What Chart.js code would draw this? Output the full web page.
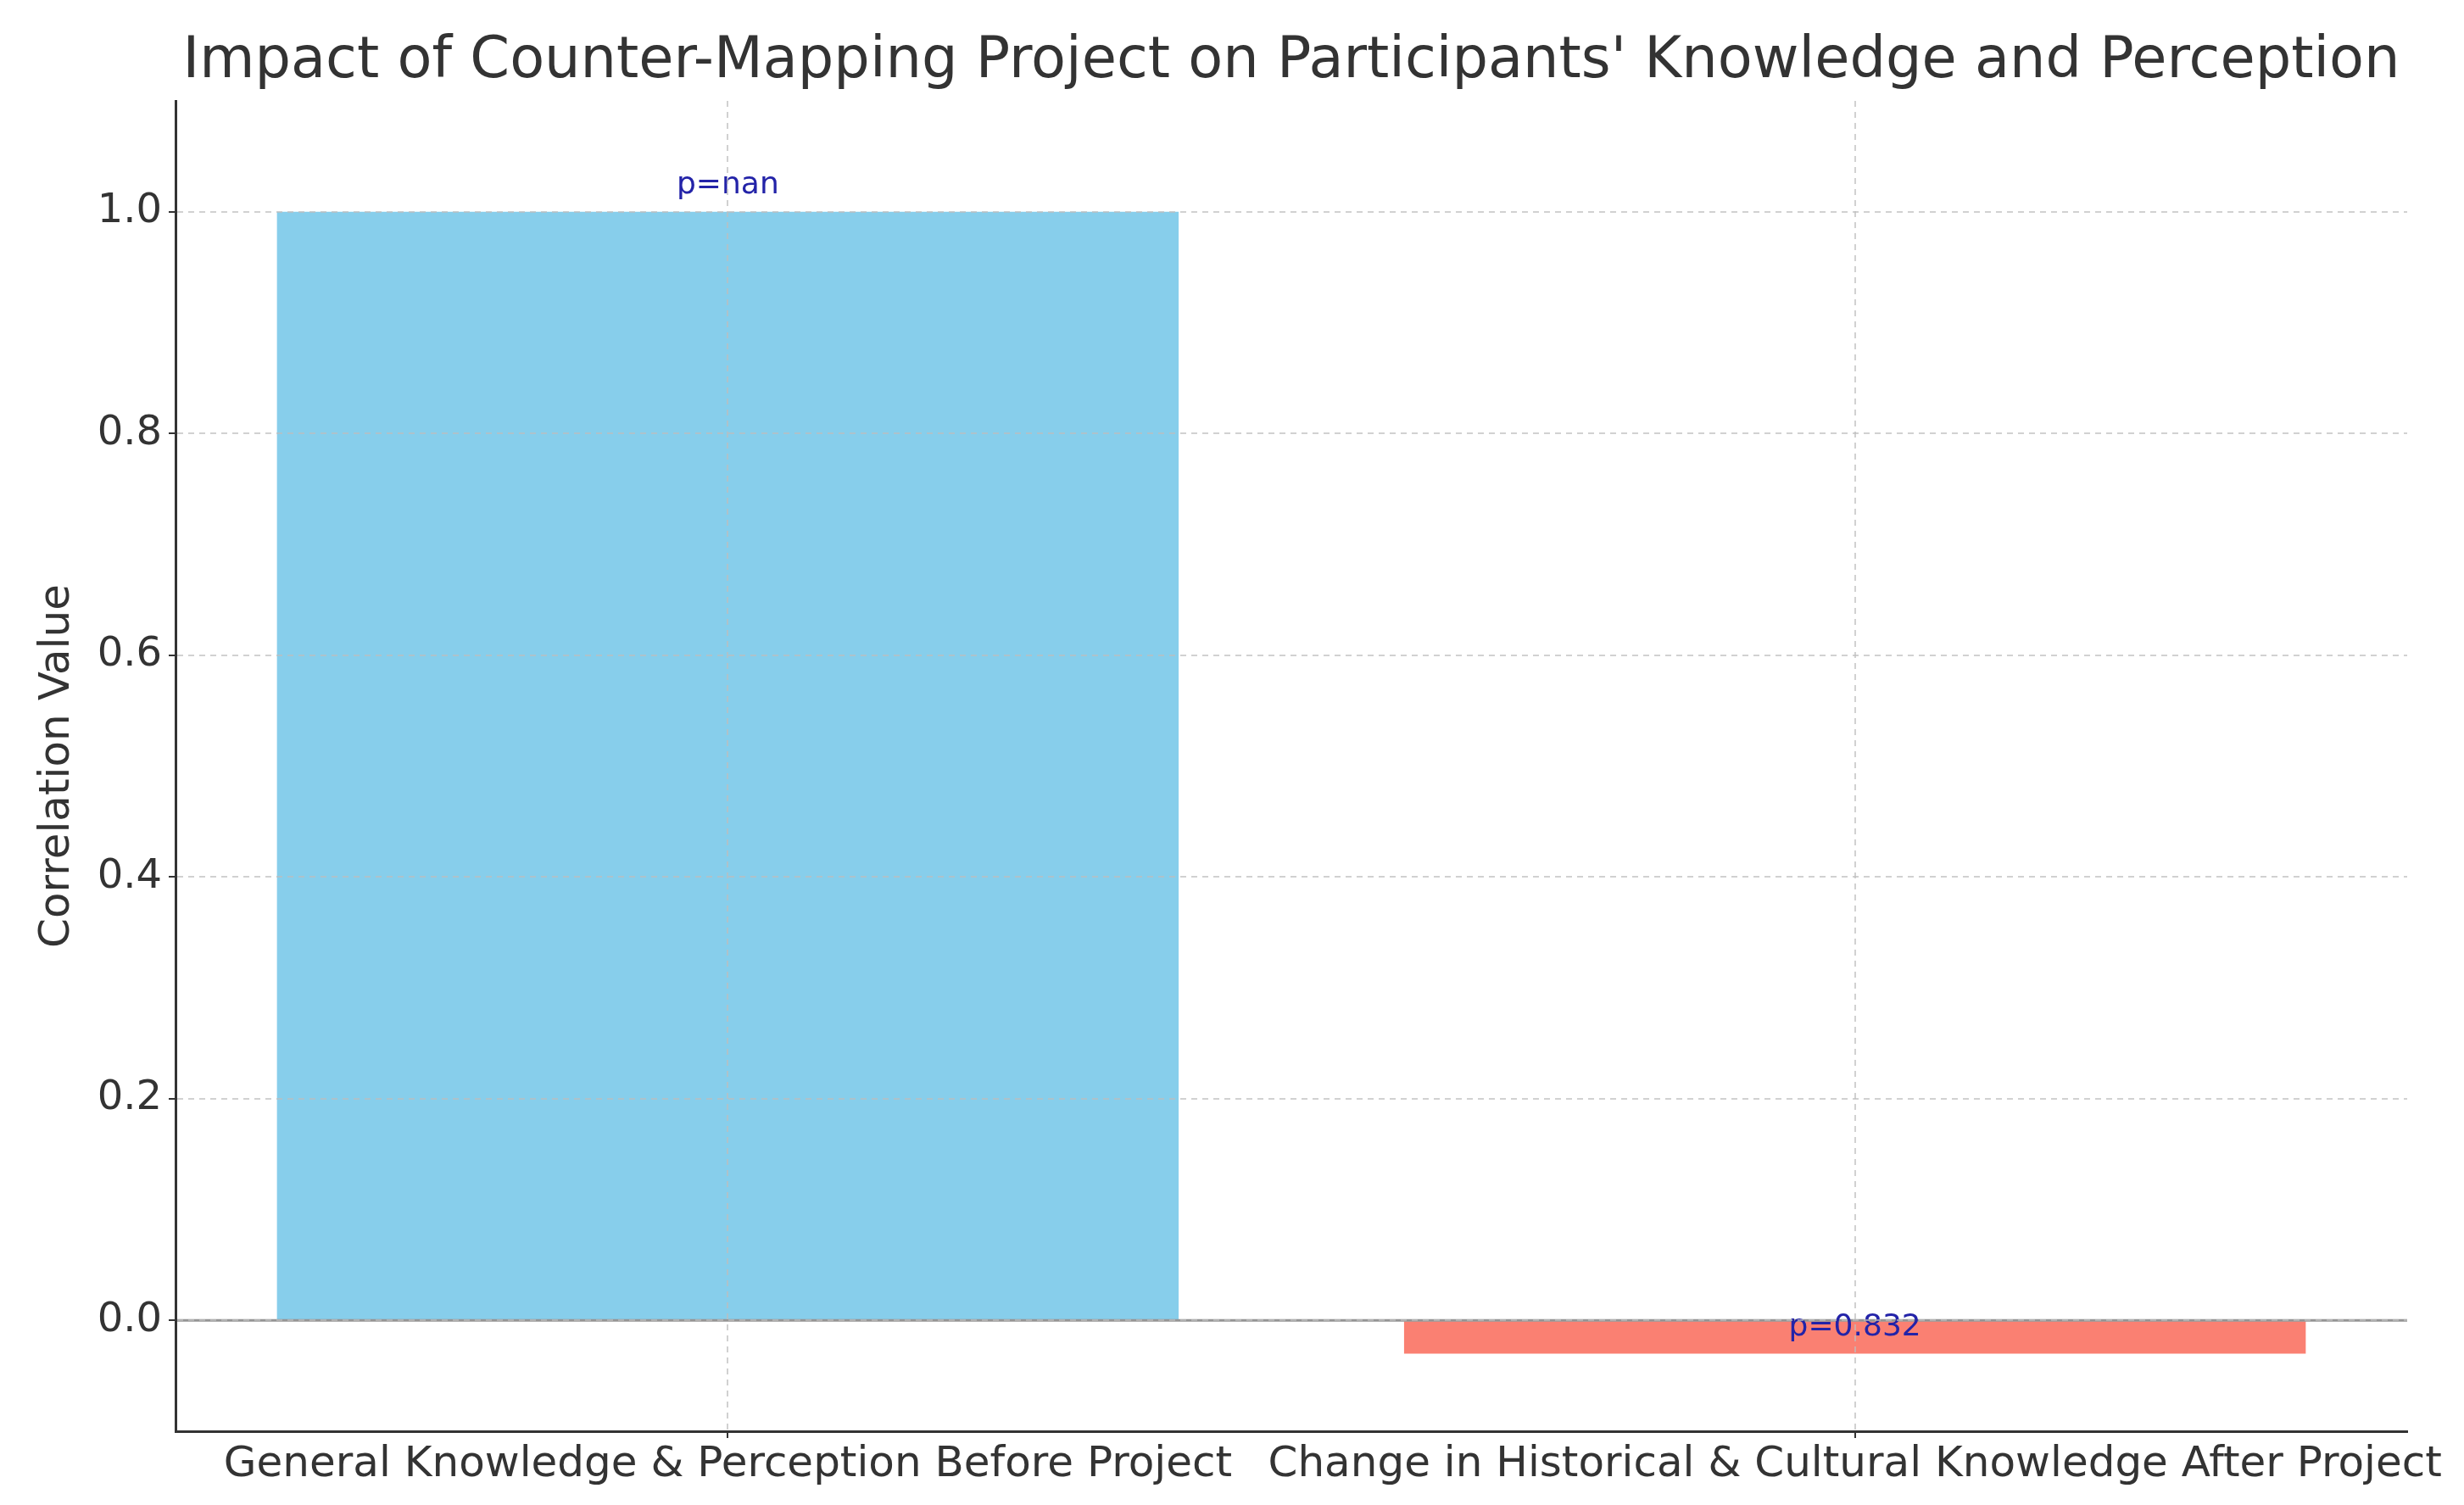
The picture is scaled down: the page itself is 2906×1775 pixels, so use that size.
<!DOCTYPE html>
<html>
<head>
<meta charset="utf-8">
<script src="https://cdn.jsdelivr.net/npm/chart.js@4.4.1/dist/chart.umd.min.js"></script>
<style>
    html, body { margin: 0; padding: 0; background: #fff; }
    #wrap { width: 2906px; height: 1775px; }
</style>
</head>
<body>
<div id="wrap"><canvas id="corrChart" width="2906" height="1775"></canvas></div>
<script>
const categories = ['General Knowledge & Perception Before Project', 'Change in Historical & Cultural Knowledge After Project'];
const correlations = [1.0, -0.03];
const pValueLabels = ['p=nan', 'p=0.832'];
const barColors = ['#87CEEB', '#FA8072'];
const yTicks = [0.0, 0.2, 0.4, 0.6, 0.8, 1.0];
const chartTitle = "Impact of Counter-Mapping Project on Participants' Knowledge and Perception";

const FONT = "'DejaVu Sans', 'Liberation Sans', sans-serif";
const TEXT = '#333333';
const GRID = 'rgba(190,190,190,0.7)';

// title centred over the plot area, like matplotlib does
const titlePlugin = {
    id: 'plotTitle',
    afterDraw(chart) {
        const { ctx, chartArea } = chart;
        ctx.save();
        ctx.font = '67px ' + FONT;
        ctx.fillStyle = TEXT;
        ctx.textAlign = 'center';
        ctx.textBaseline = 'middle';
        ctx.fillText(chartTitle, (chartArea.left + chartArea.right) / 2, 74);
        ctx.restore();
    }
};

// zero line over the bars, then p-value labels
const annotatePlugin = {
    id: 'annotate',
    afterDatasetsDraw(chart) {
        const { ctx, chartArea, scales } = chart;
        const y0 = scales.y.getPixelForValue(0);
        ctx.save();
        ctx.strokeStyle = '#959595';
        ctx.lineWidth = 3;
        ctx.beginPath();
        ctx.moveTo(chartArea.left, y0);
        ctx.lineTo(chartArea.right, y0);
        ctx.stroke();

        const meta = chart.getDatasetMeta(0);
        ctx.font = '36px ' + FONT;
        ctx.fillStyle = '#2323a8';
        ctx.textAlign = 'center';
        ctx.textBaseline = 'bottom';
        meta.data.forEach((bar, i) => {
            const y = scales.y.getPixelForValue(correlations[i] + 0.01);
            ctx.fillText(pValueLabels[i], bar.x, y);
        });
        ctx.restore();
    }
};

new Chart(document.getElementById('corrChart'), {
    type: 'bar',
    data: {
        datasets: [{
            data: correlations.map((v, i) => ({ x: i, y: v })),
            backgroundColor: barColors,
            borderWidth: 0,
            barPercentage: 0.8,
            categoryPercentage: 1.0
        }]
    },
    options: {
        responsive: false,
        animation: false,
        layout: { padding: { top: 119, left: 30, right: 67, bottom: 0 } },
        plugins: {
            legend: { display: false },
            title: { display: false },
            tooltip: { enabled: false }
        },
        scales: {
            x: {
                type: 'linear',
                min: -0.49,
                max: 1.49,
                offset: false,
                afterBuildTicks(scale) {
                    scale.ticks = categories.map((c, i) => ({ value: i }));
                },
                grid: {
                    offset: false,
                    color: GRID,
                    lineWidth: 2,
                    z: 1,
                    tickLength: 8,
                    tickColor: TEXT,
                    tickWidth: 2
                },
                border: { color: TEXT, width: 3, dash: [7, 6], z: 1 },
                ticks: {
                    color: TEXT,
                    padding: 2,
                    maxRotation: 0,
                    autoSkip: false,
                    font: { family: FONT, size: 50 },
                    callback: value => categories[value]
                },
                afterFit(scale) {
                    scale.height = 87;
                    scale.paddingLeft = 0;
                    scale.paddingRight = 0;
                }
            },
            y: {
                min: -0.1,
                max: 1.1,
                afterBuildTicks(scale) {
                    scale.ticks = yTicks.map(v => ({ value: v }));
                },
                grid: {
                    color: GRID,
                    lineWidth: 2,
                    z: 1,
                    tickLength: 8,
                    tickColor: TEXT,
                    tickWidth: 2
                },
                border: { color: TEXT, width: 3, dash: [7, 6], z: 1 },
                ticks: {
                    color: TEXT,
                    padding: 8,
                    font: { family: FONT, size: 48 },
                    callback: value => Number(value).toFixed(1)
                },
                title: {
                    display: true,
                    text: 'Correlation Value',
                    color: TEXT,
                    padding: { top: 8, bottom: 0 },
                    font: { family: FONT, size: 50 }
                },
                afterFit(scale) {
                    scale.width = 177;
                    scale.paddingTop = 0;
                    scale.paddingBottom = 0;
                }
            }
        }
    },
    plugins: [titlePlugin, annotatePlugin]
});
</script>
</body>
</html>
